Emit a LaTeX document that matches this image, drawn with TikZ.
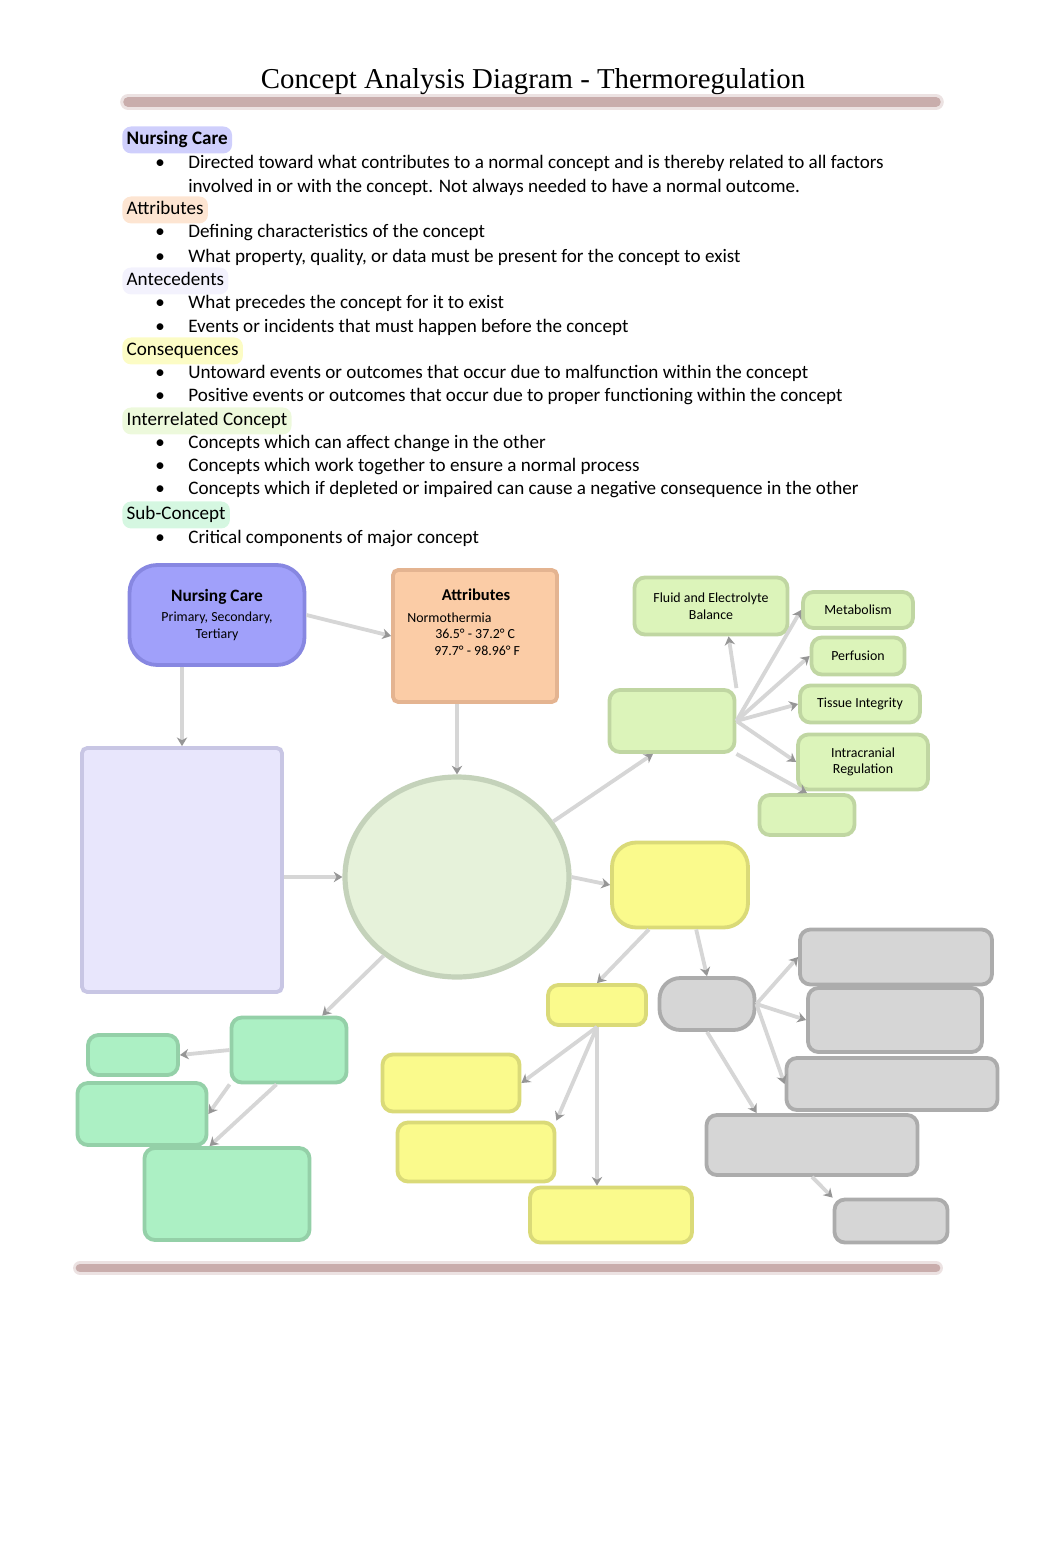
\documentclass[tikz,border=0pt]{standalone}
\usepackage{fontspec}
\setmainfont{Carlito}
\newfontfamily\titlefont{Liberation Serif}
\usetikzlibrary{arrows.meta,shapes.geometric}

\definecolor{barbrown}{RGB}{192,160,158}
\definecolor{linkgray}{RGB}{214,214,214}
\definecolor{tipgray}{RGB}{150,150,150}
\definecolor{ncfill}{RGB}{160,160,250}
\definecolor{ncdraw}{RGB}{135,135,225}
\definecolor{atfill}{RGB}{251,204,166}
\definecolor{atdraw}{RGB}{228,180,145}
\definecolor{anfill}{RGB}{232,230,252}
\definecolor{andraw}{RGB}{200,198,228}
\definecolor{cofill}{RGB}{230,242,218}
\definecolor{codraw}{RGB}{196,210,186}
\definecolor{irfill}{RGB}{220,244,186}
\definecolor{irdraw}{RGB}{192,214,162}
\definecolor{csfill}{RGB}{250,250,140}
\definecolor{csdraw}{RGB}{218,218,120}
\definecolor{grfill}{RGB}{214,214,214}
\definecolor{grdraw}{RGB}{172,172,172}
\definecolor{scfill}{RGB}{172,240,196}
\definecolor{scdraw}{RGB}{148,208,168}

\tikzset{
  bx/.style 2 args={minimum width=#1*0.576pt, minimum height=#2*0.576pt},
  cbox/.style={draw, line width=2.2pt, rounded corners=6pt, align=center,
    font=\fontsize{8}{9.6}\selectfont},
  link/.style={draw=linkgray, line width=2.2pt,
    -{Stealth[length=5pt,width=6pt,color=tipgray]}},
  head/.style={anchor=west, rounded corners=5pt, inner sep=2.5pt,
    text height=8pt, text depth=2.5pt, yshift=-1.7pt, fill opacity=0.5, text opacity=1},
  txt/.style={anchor=west, text height=8pt, text depth=2.5pt, yshift=-1.7pt},
}

\begin{document}
\begin{tikzpicture}[x=0.576pt,y=-0.576pt,
  every node/.style={inner sep=0pt, font=\fontsize{11}{13}\selectfont}]
\useasboundingbox (0,0) rectangle (1062,1556);

% title and bars
\node (title) at (533,80) [font=\titlefont\fontsize{16.6}{19}\selectfont,
  text height=10pt, text depth=4pt, yshift=-1.8pt] {Concept Analysis Diagram - Thermoregulation};
\draw [barbrown, line width=9pt, line cap=round, opacity=0.3] (128,102) -- (936,102);
\draw [barbrown, line width=5.5pt, line cap=round, opacity=0.8] (128,102) -- (936,102);
\draw [barbrown, line width=8pt, line cap=round, opacity=0.3] (80,1268) -- (936,1268);
\draw [barbrown, line width=5pt, line cap=round, opacity=0.8] (80,1268) -- (936,1268);

% headings
\node (hNursing) at (122,137) [head, fill=ncfill, font=\bfseries\fontsize{11}{13}\selectfont] {Nursing Care};
\node (hAttr) at (122,207) [head, fill=atfill] {Attributes};
\node (hAnte) at (122,278) [head, fill=anfill] {Antecedents};
\node (hCons) at (122,348) [head, fill=csfill] {Consequences};
\node (hInter) at (122,418) [head, fill=irfill] {Interrelated Concept};
\node (hSub) at (122,512) [head, fill=scfill] {Sub-Concept};

% bullet lines
\foreach \yy/\txt in {161/{Directed toward what contributes to a normal concept and is thereby related to all factors},
  230/{Defining characteristics of the concept},
  255/{What property, quality, or data must be present for the concept to exist},
  301/{What precedes the concept for it to exist},
  325/{Events or incidents that must happen before the concept},
  371/{Untoward events or outcomes that occur due to malfunction within the concept},
  394/{Positive events or outcomes that occur due to proper functioning within the concept},
  441/{Concepts which can affect change in the other},
  464/{Concepts which work together to ensure a normal process},
  487/{Concepts which if depleted or impaired can cause a negative consequence in the other},
  536/{Critical components of major concept}}
{
  \node (dot\yy) at (155,\yy) [txt] {\textbullet};
  \node (line\yy) at (188,\yy) [txt] {\txt};
}
\node (line185) at (188,185) [txt] {involved in or with the concept. Not always needed to have a normal outcome.};

% diagram boxes
\node (nurse) at (217,615) [cbox, bx={175}{100}, rounded corners=16pt, fill=ncfill, draw=ncdraw]
  {{\bfseries\fontsize{10}{12}\selectfont Nursing Care}\\[2pt]Primary, Secondary,\\Tertiary};
\node (attr) at (475,636) [cbox, bx={164}{132}, rounded corners=3pt, fill=atfill, draw=atdraw] {};
\node (attrTitle) at (476,595) [font=\bfseries\fontsize{9.5}{11}\selectfont] {Attributes};
\node (attrNorm) at (407,615) [txt, font=\fontsize{8}{9.6}\selectfont] {Normothermia};
\node (attrC) at (435,631) [txt, font=\fontsize{8}{9.6}\selectfont] {36.5° - 37.2° C};
\node (attrF) at (434,648) [txt, font=\fontsize{8}{9.6}\selectfont] {97.7° - 98.96° F};
\node (ante) at (182,870) [cbox, bx={200}{244}, rounded corners=3pt, fill=anfill, draw=andraw] {};
\node (core) at (457,877) [cbox, ellipse, minimum width=224*0.576pt, minimum height=200*0.576pt,
  line width=3pt, fill=cofill, draw=codraw] {};

% interrelated concepts
\node (inter) at (672,721) [cbox, bx={125}{62}, fill=irfill, draw=irdraw] {};
\node (fluid) at (711,606) [cbox, bx={153}{57}, fill=irfill, draw=irdraw]
  {Fluid and Electrolyte\\Balance};
\node (meta) at (858,610) [cbox, bx={110}{36}, fill=irfill, draw=irdraw] {Metabolism};
\node (perf) at (858,656) [cbox, bx={93}{37}, fill=irfill, draw=irdraw] {Perfusion};
\node (tissue) at (860,704) [cbox, bx={120}{37}, fill=irfill, draw=irdraw] {Tissue Integrity};
\node (intra) at (863,762) [cbox, bx={130}{55}, fill=irfill, draw=irdraw]
  {Intracranial\\Regulation};
\node (gblank) at (807,815) [cbox, bx={95}{40}, fill=irfill, draw=irdraw] {};

% consequences
\node (cons) at (680,885) [cbox, bx={136}{85}, rounded corners=14pt, fill=csfill, draw=csdraw] {};
\node (ysmall) at (597,1005) [cbox, bx={98}{40}, fill=csfill, draw=csdraw] {};
\node (y1) at (451,1083) [cbox, bx={137}{57}, fill=csfill, draw=csdraw] {};
\node (y2) at (476,1152) [cbox, bx={157}{59}, fill=csfill, draw=csdraw] {};
\node (y3) at (611,1215) [cbox, bx={162}{55}, fill=csfill, draw=csdraw] {};
\node (ghub) at (707,1004) [cbox, bx={95}{52}, rounded corners=12pt, fill=grfill, draw=grdraw] {};
\node (g1) at (896,957) [cbox, bx={192}{55}, fill=grfill, draw=grdraw] {};
\node (g2) at (895,1020) [cbox, bx={174}{64}, fill=grfill, draw=grdraw] {};
\node (g3) at (892,1084) [cbox, bx={211}{52}, fill=grfill, draw=grdraw] {};
\node (g4) at (812,1145) [cbox, bx={211}{60}, fill=grfill, draw=grdraw] {};
\node (g5) at (891,1221) [cbox, bx={113}{43}, fill=grfill, draw=grdraw] {};

% sub-concepts
\node (sub) at (289,1050) [cbox, bx={115}{65}, fill=scfill, draw=scdraw] {};
\node (s1) at (133,1055) [cbox, bx={90}{40}, fill=scfill, draw=scdraw] {};
\node (s2) at (142,1114) [cbox, bx={129}{62}, fill=scfill, draw=scdraw] {};
\node (s3) at (227,1194) [cbox, bx={165}{92}, fill=scfill, draw=scdraw] {};

% connectors
\draw [link] (nurse.east) -- (attr.west);
\draw [link] (ante.north |- nurse.south) -- (ante.north);
\draw [link] (core.west -| ante.east) -- (core.west);
\draw [link] (attr.south -| core.north) -- (core.north);
\draw [link] (core.30) -- (inter.240);
\draw [link] (core.east) -- (cons.west);
\draw [link] (core.227) -- (sub.46);
\draw [link] (inter.north east) -- (fluid.300);
\draw [link] (inter.east) -- (meta.west);
\draw [link] (inter.east) -- (perf.west);
\draw [link] (inter.east) -- (tissue.west);
\draw [link] (inter.east) -- (intra.west);
\draw [link] (inter.south east) -- (gblank.north);
\draw [link] (cons.235) -- (ysmall.north);
\draw [link] (cons.290) -- (ghub.north);
\draw [link] (ghub.east) -- (g1.west);
\draw [link] (ghub.east) -- (g2.west);
\draw [link] (ghub.east) -- (g3.west);
\draw [link] (ghub.south) -- (g4.150);
\draw [link] (g4.south) -- (g5.north west);
\draw [link] (ysmall.south) -- (y1.east);
\draw [link] (ysmall.south) -- (y2.north east);
\draw [link] (ysmall.south) -- (ysmall.south |- y3.north);
\draw [link] (sub.west) -- (s1.east);
\draw [link] (sub.south west) -- (s2.east);
\draw [link] (sub.250) -- (s3.110);
\end{tikzpicture}
\end{document}
